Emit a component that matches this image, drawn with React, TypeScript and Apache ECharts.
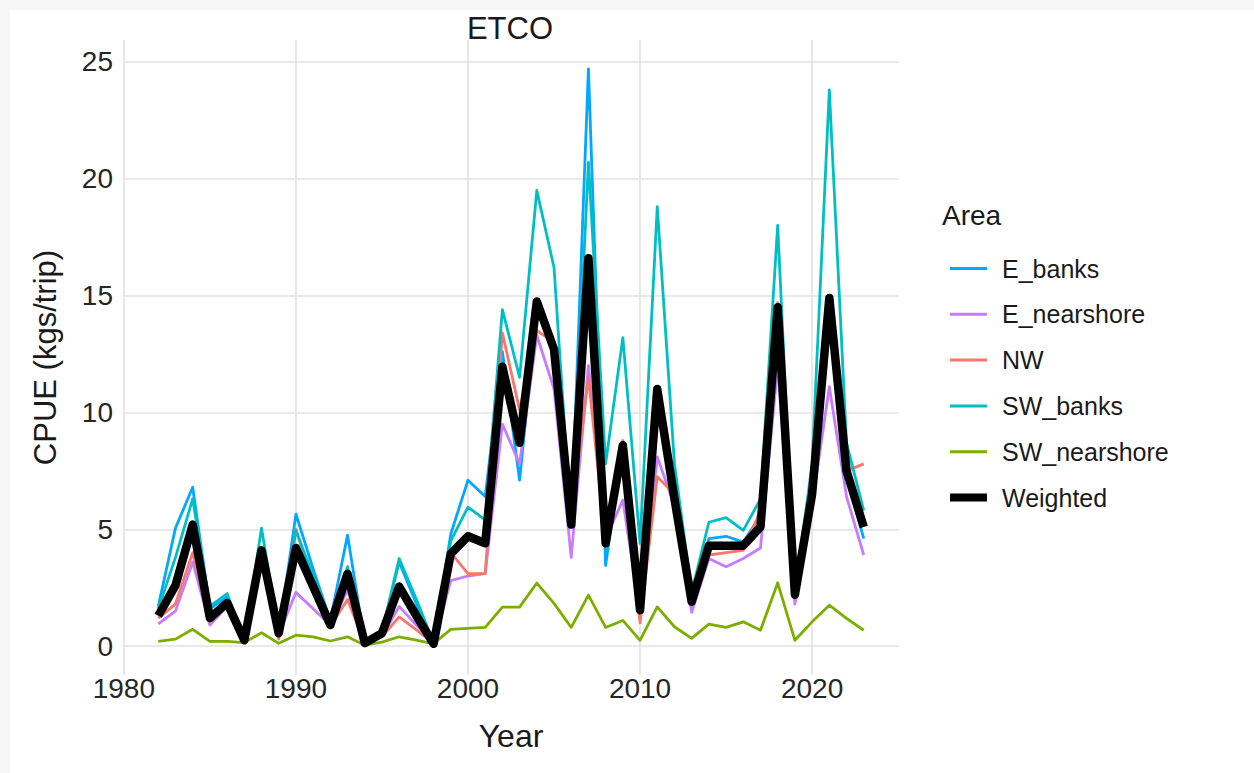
import React, { useEffect, useRef } from "react";
import * as echarts from "echarts";

const years = [
  1982, 1983, 1984, 1985, 1986, 1987, 1988, 1989, 1990, 1991,
  1992, 1993, 1994, 1995, 1996, 1997, 1998, 1999, 2000, 2001,
  2002, 2003, 2004, 2005, 2006, 2007, 2008, 2009, 2010, 2011,
  2012, 2013, 2014, 2015, 2016, 2017, 2018, 2019, 2020, 2021,
  2022, 2023,
];

const eBanks = [
  1.7, 5.05, 6.8, 1.6, 2.1, 0.3, 4.2, 0.5, 5.65, 3.3,
  1.1, 4.75, 0.15, 0.6, 3.6, 1.8, 0.15, 4.8, 7.1, 6.4,
  12.6, 7.1, 14.5, 12.5, 5.2, 24.7, 3.45, 8.7, 1.5, 10.5,
  6.3, 2.0, 4.6, 4.7, 4.45, 5.6, 14.2, 2.1, 6.3, 14.5,
  7.3, 4.6,
];

const eNearshore = [
  0.95, 1.5, 3.6, 0.9, 1.7, 0.25, 3.9, 0.5, 2.3, 1.6,
  0.9, 2.4, 0.1, 0.4, 1.7, 0.9, 0.1, 2.8, 3.0, 3.1,
  9.5, 7.8, 13.3, 11.0, 3.8, 12.0, 4.6, 6.25, 1.4, 8.1,
  6.0, 1.45, 3.75, 3.4, 3.75, 4.2, 12.0, 1.8, 6.0, 11.1,
  6.4, 3.9,
];

const nw = [
  1.2, 1.8, 4.0, 1.05, 1.9, 0.25, 4.1, 0.3, 5.0, 2.7,
  0.85, 2.0, 0.1, 0.4, 1.25, 0.7, 0.1, 4.0, 3.1, 3.1,
  13.4, 10.1, 13.5, 13.0, 5.5, 11.5, 4.4, 8.8, 1.0, 7.25,
  6.5, 2.6, 3.9, 4.0, 4.1, 5.8, 14.7, 2.5, 6.8, 14.0,
  7.5, 7.8,
];

const swBanks = [
  1.6, 3.8, 6.3, 1.7, 2.25, 0.25, 5.05, 0.6, 4.95, 3.0,
  1.0, 3.4, 0.2, 0.6, 3.75, 2.0, 0.15, 4.5, 5.95, 5.4,
  14.4, 11.5, 19.5, 16.2, 5.1, 20.7, 7.8, 13.2, 4.4, 18.8,
  7.8, 2.3, 5.3, 5.5, 4.95, 6.3, 18.0, 2.3, 7.8, 23.8,
  8.7, 5.8,
];

const swNearshore = [
  0.2, 0.3, 0.72, 0.2, 0.2, 0.15, 0.57, 0.12, 0.47, 0.4,
  0.22, 0.4, 0.04, 0.17, 0.4, 0.26, 0.1, 0.72, 0.76, 0.8,
  1.67, 1.67, 2.7, 1.83, 0.8, 2.18, 0.8, 1.1, 0.25, 1.68,
  0.83, 0.33, 0.94, 0.8, 1.04, 0.68, 2.71, 0.25, 1.04, 1.75,
  1.19, 0.68,
];

const weighted = [
  1.3, 2.6, 5.2, 1.2, 1.85, 0.25, 4.1, 0.55, 4.2, 2.55,
  0.9, 3.1, 0.13, 0.55, 2.55, 1.3, 0.1, 3.95, 4.7, 4.4,
  11.95, 8.7, 14.75, 12.7, 5.2, 16.6, 4.4, 8.6, 1.54, 11.0,
  6.3, 1.9, 4.3, 4.3, 4.3, 5.1, 14.5, 2.2, 6.5, 14.9,
  7.5, 5.1,
];

const seriesNames = ["E_banks", "E_nearshore", "NW", "SW_banks", "SW_nearshore", "Weighted"];
const seriesValues = [eBanks, eNearshore, nw, swBanks, swNearshore, weighted];
const seriesColors = ["#00A9FF", "#C77CFF", "#F8766D", "#00BFC4", "#7CAE00", "#000000"];

const FONT = "'Liberation Sans', Arial, sans-serif";

export default function App() {
  const ref = useRef<HTMLDivElement>(null);

  useEffect(() => {
    if (!ref.current) return;
    const chart = echarts.init(ref.current, undefined, { renderer: "svg" });

    const series = seriesNames.map((name, k) => {
      const isW = name === "Weighted";
      return {
        name,
        type: "line",
        data: years.map((y, i) => [y, seriesValues[k][i]]),
        symbol: "none",
        showSymbol: false,
        color: seriesColors[k],
        lineStyle: {
          color: seriesColors[k],
          width: isW ? 8.5 : 2.8,
          join: "round",
          cap: "butt",
        },
        itemStyle: { color: seriesColors[k] },
        z: isW ? 3 : 2,
      };
    });

    const tenFmt = (v: number) =>
      Math.abs(v - Math.round(v / 10) * 10) < 1e-6 ? String(Math.round(v)) : "";
    const fiveFmt = (v: number) =>
      Math.abs(v - Math.round(v / 5) * 5) < 1e-6 ? String(Math.round(v)) : "";

    const gridLine = { color: "#e2e2e2", width: 1.6 };
    const tickColor = "#262626";
    const titleColor = "#1a1a1a";

    chart.setOption({
      animation: false,
      backgroundColor: "#ffffff",
      textStyle: { fontFamily: FONT },
      grid: { left: 113, top: 30, width: 776, height: 635, containLabel: false },
      xAxis: {
        type: "value",
        min: 1979.95,
        max: 2025.05,
        minInterval: 10,
        maxInterval: 10,
        name: "Year",
        nameLocation: "middle",
        nameGap: 45,
        nameTextStyle: { fontSize: 32, color: titleColor, fontFamily: FONT },
        axisLine: { show: false },
        axisTick: { show: false },
        axisLabel: {
          fontSize: 28,
          color: tickColor,
          fontFamily: FONT,
          margin: -1,
          showMinLabel: false,
          showMaxLabel: false,
          formatter: tenFmt,
        },
        splitLine: { show: true, showMinLine: false, showMaxLine: false, lineStyle: gridLine },
      },
      yAxis: {
        type: "value",
        min: -1.235,
        max: 25.935,
        minInterval: 5,
        maxInterval: 5,
        name: "CPUE (kgs/trip)",
        nameLocation: "middle",
        nameGap: 62,
        nameTextStyle: { fontSize: 31, color: titleColor, fontFamily: FONT },
        axisLine: { show: false },
        axisTick: { show: false },
        axisLabel: {
          fontSize: 28,
          color: tickColor,
          fontFamily: FONT,
          margin: 10,
          showMinLabel: false,
          showMaxLabel: false,
          formatter: fiveFmt,
        },
        splitLine: { show: true, showMinLine: false, showMaxLine: false, lineStyle: gridLine },
      },
      legend: {
        orient: "vertical",
        left: 931,
        top: 241,
        itemWidth: 37,
        itemHeight: 24,
        itemGap: 20.8,
        selectedMode: false,
        itemStyle: { opacity: 0, borderWidth: 0 },
        formatter: "{p|{name}}",
        textStyle: {
          fontSize: 25,
          lineHeight: 24,
          color: titleColor,
          fontFamily: FONT,
          rich: {
            p: { fontSize: 25, lineHeight: 24, color: titleColor, fontFamily: FONT, padding: [0, 0, 0, 10] },
          },
        },
        data: seriesNames.map((name) => ({
          name,
          itemStyle: { opacity: 0, borderWidth: 0 },
          lineStyle: { width: name === "Weighted" ? 8 : 3, cap: "butt" },
        })),
      },
      graphic: [
        {
          type: "text",
          x: 500,
          y: 18,
          style: {
            text: "ETCO",
            fontSize: 31,
            fontFamily: FONT,
            fill: titleColor,
            align: "center",
            verticalAlign: "middle",
            textAlign: "center",
            textVerticalAlign: "middle",
          },
        },
        {
          type: "text",
          x: 932,
          y: 205,
          style: {
            text: "Area",
            fontSize: 28,
            fontFamily: FONT,
            fill: titleColor,
            align: "left",
            verticalAlign: "middle",
            textAlign: "left",
            textVerticalAlign: "middle",
          },
        },
      ],
      series,
    });

    return () => chart.dispose();
  }, []);

  return (
    <div style={{ position: "fixed", left: 0, top: 0, width: 1254, height: 773, background: "#f6f6f6" }}>
      <div
        ref={ref}
        style={{ position: "absolute", left: 10, top: 10, width: 1244, height: 763, background: "#ffffff" }}
      />
    </div>
  );
}
